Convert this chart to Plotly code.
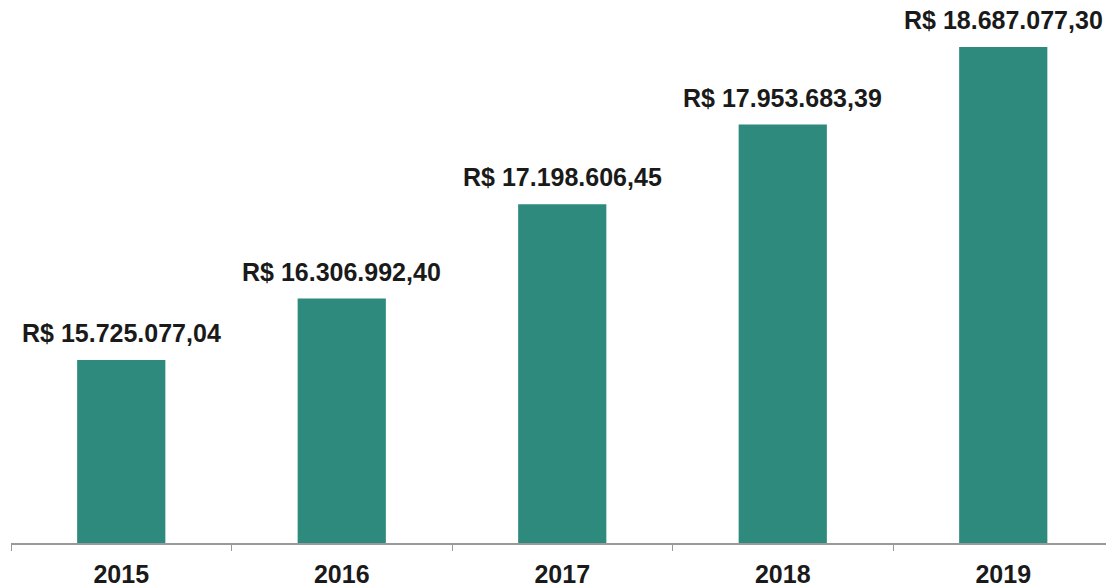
import plotly.graph_objects as go

years = ["2015", "2016", "2017", "2018", "2019"]
values = [15725077.04, 16306992.40, 17198606.45, 17953683.39, 18687077.30]
labels = ["R$ 15.725.077,04", "R$ 16.306.992,40", "R$ 17.198.606,45",
          "R$ 17.953.683,39", "R$ 18.687.077,30"]

fig = go.Figure(go.Bar(
    x=years, y=values,
    marker=dict(color="#2D8A7D", line=dict(width=0)),
    width=0.4, cliponaxis=False, hoverinfo="x+y",
))
for i, (v, lab) in enumerate(zip(values, labels)):
    fig.add_annotation(
        x=i, y=v, text=lab, showarrow=False, yanchor="bottom", yshift=11,
        xref="x", yref="y",
        font=dict(family="Liberation Sans, Arial", size=25, color="#1a1a1a", weight="bold"),
    )
fig.update_layout(
    width=1106, height=588,
    margin=dict(l=11, r=0, t=0, b=45, autoexpand=False),
    paper_bgcolor="white", plot_bgcolor="white",
    showlegend=False,
)
fig.update_xaxes(
    type="category", range=[-0.5, 4.466], automargin=False,
    showline=True, linecolor="#999999", linewidth=1.5,
    ticks="outside", tickson="boundaries", ticklen=6, tickcolor="#999999",
    ticklabelstandoff=8,
    tickfont=dict(family="Liberation Sans, Arial", size=25, color="#1a1a1a", weight="bold"),
    showgrid=False,
)
fig.update_yaxes(range=[13993000, 19132000], visible=False, showgrid=False, automargin=False)
fig.write_html("out.html", config={"displayModeBar": False},
               post_script="document.body.style.margin='0px';document.body.style.padding='0px';")
